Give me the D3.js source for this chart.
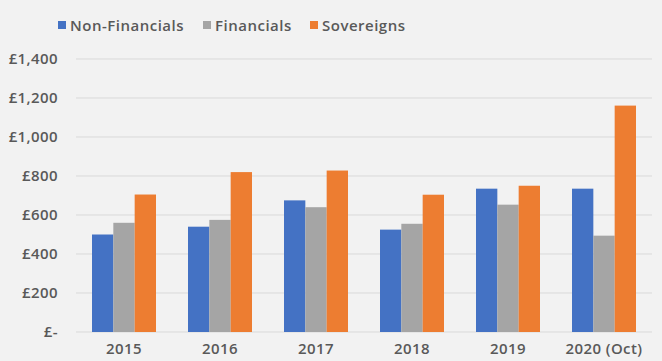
<!DOCTYPE html>
<html>
<head>
<meta charset="utf-8">
<script src="https://cdn.jsdelivr.net/npm/d3@7"></script>
<style>
  body { margin: 0; background: #f2f2f2; }
  svg { display: block; font-family: "Open Sans", sans-serif; font-weight: 600; }
</style>
</head>
<body>
<svg id="chart"></svg>
<script>
// Chart data
const years = ['2015', '2016', '2017', '2018', '2019', '2020 (Oct)'];
const seriesNames = ['Non-Financials', 'Financials', 'Sovereigns'];
const nonFinancials = [500, 540, 675, 525, 735, 735];
const financials = [560, 575, 640, 555, 653, 494];
const sovereigns = [705, 820, 828, 704, 750, 1161];
const yTicks = [0, 200, 400, 600, 800, 1000, 1200, 1400];
const colors = ['#4472C4', '#A5A5A5', '#ED7D31'];

const values = [nonFinancials, financials, sovereigns];

const W = 662, H = 361;
const margin = { top: 59, right: 10, bottom: 29, left: 76 };
const width = W - margin.left - margin.right;
const height = H - margin.top - margin.bottom;

const svg = d3.select('#chart')
  .attr('width', W)
  .attr('height', H);

const g = svg.append('g')
  .attr('transform', `translate(${margin.left}, ${margin.top})`);

// Scales
const x0 = d3.scaleBand()
  .domain(years)
  .range([0, width])
  .paddingInner(1 / 3)
  .paddingOuter(1 / 6);

const x1 = d3.scaleBand()
  .domain(seriesNames)
  .range([0, x0.bandwidth()]);

const y = d3.scaleLinear()
  .domain([0, 1400])
  .range([height, 0]);

// Gridlines
g.append('g')
  .selectAll('line')
  .data(yTicks)
  .join('line')
  .attr('x1', 0)
  .attr('x2', width)
  .attr('y1', d => y(d))
  .attr('y2', d => y(d))
  .attr('stroke', '#d9d9d9')
  .attr('stroke-width', 1);

// Y axis
const fmt = d => d === 0 ? '£-' : '£' + d3.format(',')(d);
const yAxis = g.append('g')
  .call(d3.axisLeft(y).tickValues(yTicks).tickFormat(fmt).tickSize(0).tickPadding(18));
yAxis.select('.domain').remove();
yAxis.selectAll('text')
  .attr('fill', '#595959')
  .style('font-size', '15px')
  .style('letter-spacing', '0.4px')
  .style('font-family', '"Open Sans", sans-serif');

// Bars
const groups = g.append('g')
  .selectAll('g')
  .data(years)
  .join('g')
  .attr('transform', d => `translate(${x0(d)}, 0)`);

groups.selectAll('rect')
  .data((d, i) => seriesNames.map((s, k) => ({ s, v: values[k][i], c: colors[k] })))
  .join('rect')
  .attr('x', d => x1(d.s))
  .attr('y', d => y(d.v))
  .attr('width', x1.bandwidth())
  .attr('height', d => height - y(d.v))
  .attr('fill', d => d.c);

// X axis
const xAxis = g.append('g')
  .attr('transform', `translate(0, ${height})`)
  .call(d3.axisBottom(x0).tickSize(0).tickPadding(11));
xAxis.select('.domain').remove();
xAxis.selectAll('text')
  .attr('fill', '#595959')
  .style('font-size', '15px')
  .style('letter-spacing', '0.4px')
  .style('font-family', '"Open Sans", sans-serif');

// Legend
const legendX = [58, 203, 310];
const legend = svg.append('g');
seriesNames.forEach((s, k) => {
  legend.append('rect')
    .attr('x', legendX[k])
    .attr('y', 21)
    .attr('width', 8)
    .attr('height', 8)
    .attr('fill', colors[k]);
  legend.append('text')
    .attr('x', legendX[k] + 12)
    .attr('y', 31)
    .attr('fill', '#595959')
    .style('font-size', '15px')
    .style('letter-spacing', '0.5px')
    .text(s);
});
</script>
</body>
</html>
